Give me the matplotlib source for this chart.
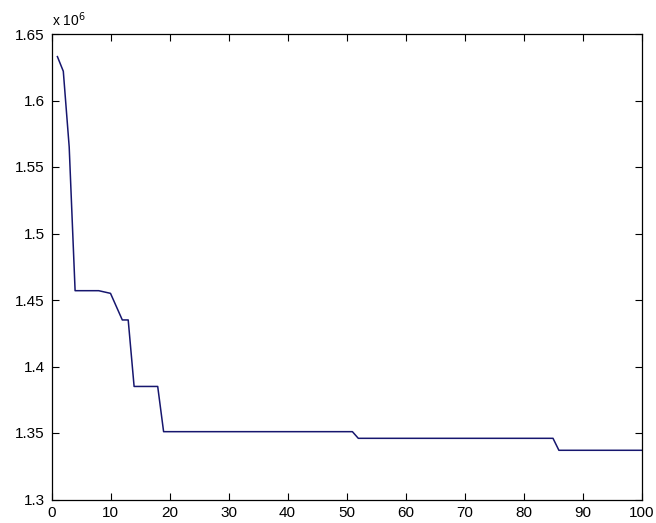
import matplotlib
matplotlib.use("Agg")
import matplotlib.pyplot as plt
from matplotlib.ticker import FuncFormatter

plt.rcParams['font.family'] = ['Liberation Sans', 'DejaVu Sans']

# generation index and best fitness (x 1e6)
generations = list(range(1, 101))
values = [
    1.633, 1.622, 1.565, 1.457, 1.457, 1.457, 1.457, 1.457, 1.456, 1.455,
    1.445, 1.435, 1.435, 1.385, 1.385, 1.385, 1.385, 1.385, 1.351, 1.351,
    1.351, 1.351, 1.351, 1.351, 1.351, 1.351, 1.351, 1.351, 1.351, 1.351,
    1.351, 1.351, 1.351, 1.351, 1.351, 1.351, 1.351, 1.351, 1.351, 1.351,
    1.351, 1.351, 1.351, 1.351, 1.351, 1.351, 1.351, 1.351, 1.351, 1.351,
    1.351, 1.346, 1.346, 1.346, 1.346, 1.346, 1.346, 1.346, 1.346, 1.346,
    1.346, 1.346, 1.346, 1.346, 1.346, 1.346, 1.346, 1.346, 1.346, 1.346,
    1.346, 1.346, 1.346, 1.346, 1.346, 1.346, 1.346, 1.346, 1.346, 1.346,
    1.346, 1.346, 1.346, 1.346, 1.346, 1.337, 1.337, 1.337, 1.337, 1.337,
    1.337, 1.337, 1.337, 1.337, 1.337, 1.337, 1.337, 1.337, 1.337, 1.337,
]
x_ticks = list(range(0, 101, 10))
y_ticks = [1.3, 1.35, 1.4, 1.45, 1.5, 1.55, 1.6, 1.65]
exponent_label = r"x 10$^{6}$"

W, H = 656, 523
left, right, top, bottom = 51.5, 641.5, 34.0, 499.5
fig = plt.figure(figsize=(W / 100, H / 100), dpi=100)
ax = fig.add_axes([left / W, (H - bottom) / H, (right - left) / W, (bottom - top) / H])
ax.plot(generations, values, color='#16166e', linewidth=1.1)

ax.set_xlim(0, 100)
ax.set_ylim(1.3, 1.65)
ax.set_xticks(x_ticks)
ax.set_yticks(y_ticks)
ax.yaxis.set_major_formatter(FuncFormatter(lambda v, p: f"{v:g}"))
ax.tick_params(direction='in', top=True, right=True, length=5, width=0.8,
               labelsize=11, colors='black', pad=5)
for s in ax.spines.values():
    s.set_linewidth(0.9)
    s.set_color('black')

fig.text(left / W, 1 - 20 / H, exponent_label, fontsize=10, ha='left', va='center')

fig.savefig("out.png", dpi=100, facecolor='white')
